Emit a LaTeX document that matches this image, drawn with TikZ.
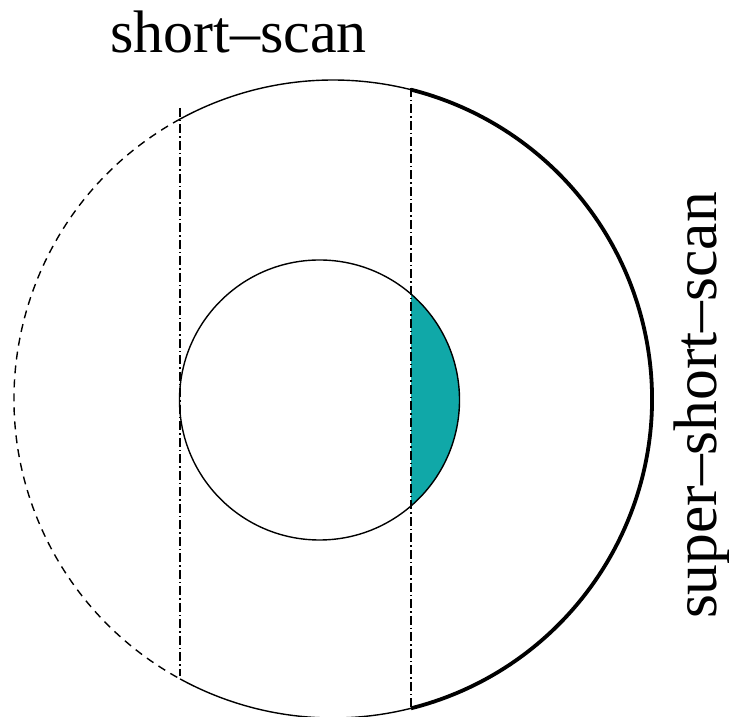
\documentclass[tikz,border=0pt]{standalone}
\usepackage{fontspec}
\setmainfont{Liberation Serif}
\newfontfamily\tmsfont{Liberation Serif}
\usetikzlibrary{calc}
\definecolor{tealfill}{RGB}{16,168,168}
\begin{document}
\begin{tikzpicture}[x=1pt,y=1pt,
  thinline/.style={line width=1.4pt,black},
  thickline/.style={line width=3.8pt,black},
  dashline/.style={line width=1.4pt,black,dash pattern=on 8pt off 6pt},
  dashdotline/.style={line width=1.4pt,black,dash pattern=on 9pt off 3pt on 1.5pt off 3pt},
  label/.style={font=\tmsfont\fontsize{60}{60}\selectfont,inner sep=0pt},
  sidelabel/.style={font=\tmsfont\fontsize{61.5}{61.5}\selectfont,inner sep=0pt}]
\useasboundingbox (0,0) rectangle (729,717);
\fill[white] (0,0) rectangle (729,717);
\coordinate (C) at (333,318);
\coordinate (c) at (319.5,317);
% teal lens
\begin{scope}
  \clip (411,0) rectangle (729,717);
  \fill[tealfill] (c) circle (140);
\end{scope}
% small circle
\draw[thinline] (c) circle (140);
% big circle pieces
\draw[thickline] ($(C)+(-75.85:319)$) arc (-75.85:75.85:319);
\draw[thinline] ($(C)+(75.85:319)$) arc (75.85:118.65:319);
\draw[dashline] ($(C)+(118.65:319)$) arc (118.65:241.35:319);
\draw[thinline] ($(C)+(241.35:319)$) arc (241.35:284.15:319);
% vertical lines
\coordinate (l1) at (180,609);
\coordinate (l2) at (180,41);
\coordinate (r1) at (411,629);
\coordinate (r2) at (411,8);
\draw[dashdotline] (l1) -- (l2);
\draw[dashdotline] (r1) -- (r2);
% labels
\node[label,anchor=base west] (ss) at (110,664) {short–scan};
\node[sidelabel,anchor=base,rotate=90] (sss) at (716,311.5) {super–short–scan};
\end{tikzpicture}
\end{document}
